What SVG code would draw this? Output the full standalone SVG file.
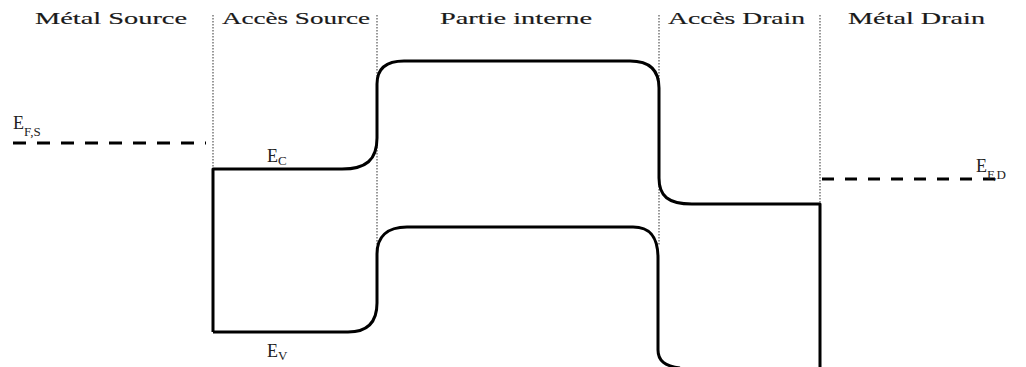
<svg xmlns="http://www.w3.org/2000/svg" width="1026" height="367" viewBox="0 0 1026 367">
<style>
.hdr{font-family:"Liberation Serif","Times New Roman",serif;font-size:16px;fill:#1a1a1a;stroke:#1a1a1a;stroke-width:0.15;}
.lbl{font-family:"Liberation Serif","Times New Roman",serif;font-size:18px;fill:#222;}
.sub{font-size:13px;}
.band{fill:none;stroke:#000;stroke-width:3;stroke-linejoin:round;}
.fermi{fill:none;stroke:#000;stroke-width:3;}
.div{fill:none;stroke:#555;stroke-width:1.2;stroke-dasharray:1.5,1.5;}
</style>
<rect width="1026" height="367" fill="#fff"/>
<g id="headers">
<text class="hdr" x="35" y="24" textLength="152" lengthAdjust="spacingAndGlyphs">Métal Source</text>
<text class="hdr" x="222" y="24" textLength="148" lengthAdjust="spacingAndGlyphs">Accès Source</text>
<text class="hdr" x="440" y="24" textLength="152" lengthAdjust="spacingAndGlyphs">Partie interne</text>
<text class="hdr" x="668" y="24" textLength="137" lengthAdjust="spacingAndGlyphs">Accès Drain</text>
<text class="hdr" x="848" y="24" textLength="137" lengthAdjust="spacingAndGlyphs">Métal Drain</text>
</g>
<g id="dividers">
<line class="div" x1="213" y1="15" x2="213" y2="169"/>
<line class="div" x1="377" y1="15" x2="377" y2="245"/>
<line class="div" x1="659" y1="15" x2="659" y2="245"/>
<line class="div" x1="820" y1="15" x2="820" y2="204"/>
</g>
<g id="fermi-levels">
<line id="efs" class="fermi" x1="13" y1="143" x2="206" y2="143" stroke-dasharray="13,11"/>
<line id="efd" class="fermi" x1="822" y1="179" x2="1006" y2="179" stroke-dasharray="12,11"/>
</g>
<g id="bands">
<path id="ec" class="band" d="M213,332 V169 H342 C366,169 377,160 377,138 V84 C377,69 386,61 404,61 H630 C650,61 659,71 659,88 V178 C659,196 668,204 692,204 H820 V367"/>
<path id="ev" class="band" d="M213,332 H348 C369,332 377,321 377,303 V254 C377,237 387,227 407,227 H633 C651,227 658,238 658,258 V350 C658,361 665,366 680,368"/>
</g>
<g id="labels">
<text class="lbl" x="13" y="129">E<tspan class="sub" dy="7">F,S</tspan></text>
<text class="lbl" x="976" y="172">E<tspan class="sub" dy="7">F,D</tspan></text>
<text class="lbl" x="267" y="162">E<tspan class="sub" dy="3">C</tspan></text>
<text class="lbl" x="267" y="357">E<tspan class="sub" dy="3">V</tspan></text>
</g>
</svg>
